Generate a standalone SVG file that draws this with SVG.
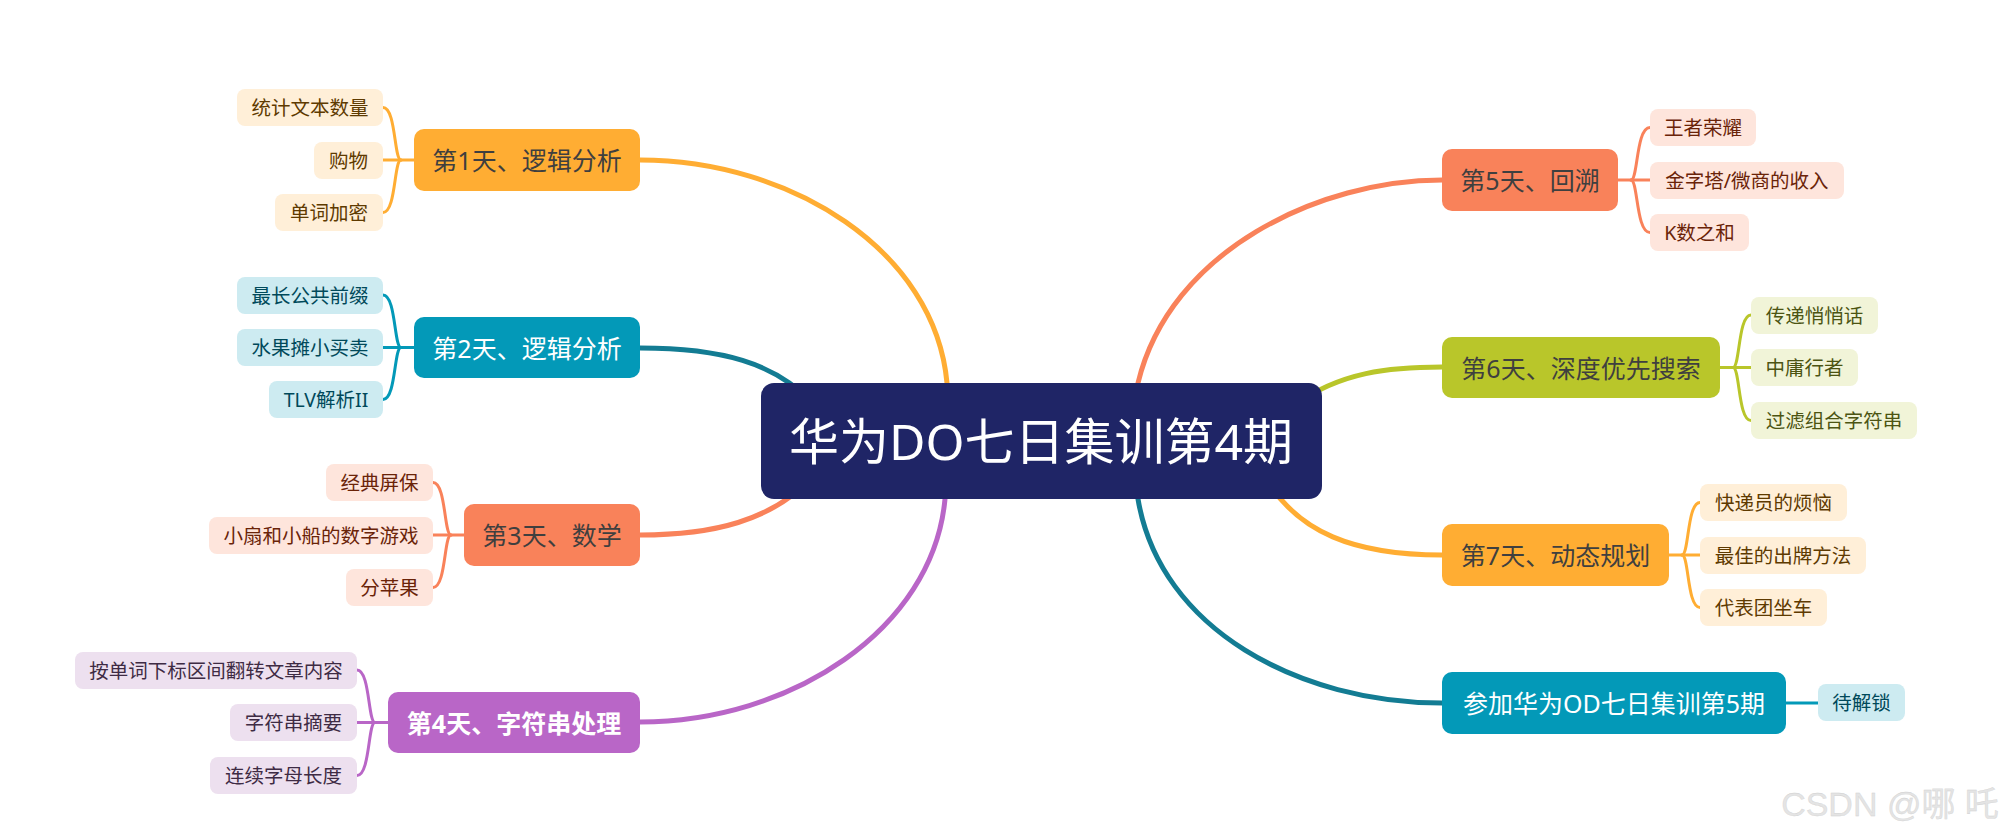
<svg xmlns="http://www.w3.org/2000/svg" width="2013" height="838" viewBox="0 0 2013 838">
<style>
text{font-family:"Noto Sans","Noto Sans CJK SC",sans-serif;text-anchor:middle;dominant-baseline:central}
.c{fill:none;stroke-width:5;stroke-linecap:round}
.b{fill:none;stroke-width:3;stroke-linecap:round}
.tp{font-size:25px}
.lf{font-size:19.5px}
.dark{fill:#3f3f3f}
.white{fill:#ffffff}
.o1{fill:#FFAD33}.o1l{fill:#FFEFD8}.o1t{fill:#5E3A00}
.t1{fill:#0399B8}.t1l{fill:#CDEBF1}.t1t{fill:#00495A}
.r1{fill:#F9825A}.r1l{fill:#FEE5DC}.r1t{fill:#6A2308}
.p1{fill:#B966C7}.p1l{fill:#EDE0EF}.p1t{fill:#3E2B44}
.g1{fill:#B9C62A}.g1l{fill:#F1F4D8}.g1t{fill:#4C5412}
</style>
<g id="connectors">
<path class="c" stroke="#FFAD33" d="M640,160 C790,160 935,250 947,383 L950,430"/>
<path class="c" stroke="#137C93" d="M640,348 C720,348 775,362 815,405"/>
<path class="c" stroke="#F9825A" d="M640,535 C715,535 770,520 810,480"/>
<path class="c" stroke="#B966C7" d="M640,722 C790,722 933,630 945,499 L947,470"/>
<path class="c" stroke="#F9825A" d="M1442,180 C1320,180 1170,250 1138,383 L1136,420"/>
<path class="c" stroke="#B9C62A" d="M1442,367 C1390,367 1340,372 1295,405"/>
<path class="c" stroke="#FFAD33" d="M1442,555 C1350,555 1300,530 1270,485"/>
<path class="c" stroke="#137C93" d="M1442,703 C1300,703 1160,630 1138,499 L1136,470"/>
<g stroke="#FFAD33">
<path class="b" d="M414,160 L383,160"/>
<path class="b" d="M401,160 C394,160 396,107.5 383,107.5"/>
<path class="b" d="M401,160 C394,160 396,212.5 383,212.5"/>
</g>
<g stroke="#0399B8">
<path class="b" d="M414,347.5 L383,347.5"/>
<path class="b" d="M401,347.5 C394,347.5 396,295 383,295"/>
<path class="b" d="M401,347.5 C394,347.5 396,399.5 383,399.5"/>
</g>
<g stroke="#F9825A">
<path class="b" d="M464,535 L433,535"/>
<path class="b" d="M451,535 C444,535 446,482.5 433,482.5"/>
<path class="b" d="M451,535 C444,535 446,587.5 433,587.5"/>
</g>
<g stroke="#B966C7">
<path class="b" d="M388,722.5 L357,722.5"/>
<path class="b" d="M375,722.5 C368,722.5 370,670 357,670"/>
<path class="b" d="M375,722.5 C368,722.5 370,775.5 357,775.5"/>
</g>
<g stroke="#F9825A">
<path class="b" d="M1618,180 L1650,180"/>
<path class="b" d="M1631,180 C1638,180 1636,127.5 1650,127.5"/>
<path class="b" d="M1631,180 C1638,180 1636,232.5 1650,232.5"/>
</g>
<g stroke="#B9C62A">
<path class="b" d="M1720,367.5 L1751,367.5"/>
<path class="b" d="M1733,367.5 C1740,367.5 1738,315 1751,315"/>
<path class="b" d="M1733,367.5 C1740,367.5 1738,420.5 1751,420.5"/>
</g>
<g stroke="#FFAD33">
<path class="b" d="M1669,555 L1700,555"/>
<path class="b" d="M1682,555 C1689,555 1687,502.5 1700,502.5"/>
<path class="b" d="M1682,555 C1689,555 1687,607.5 1700,607.5"/>
</g>
<path class="b" stroke="#0399B8" d="M1786,703 L1818,703"/>
</g>

<g id="main">
<rect x="761" y="383" width="561" height="116" rx="13" fill="#1F2566"/>
<text x="1041" y="441" font-size="50" class="white">华为DO七日集训第4期</text>
</g>

<g id="day1">
<rect x="414" y="129" width="226" height="62" rx="10" class="o1"/>
<text x="527" y="160" class="tp dark">第1天、逻辑分析</text>
</g>
<g id="day1-a"><rect x="237" y="89" width="146" height="37" rx="8" class="o1l"/><text x="310" y="107.5" class="lf o1t">统计文本数量</text></g>
<g id="day1-b"><rect x="314" y="142" width="69" height="37" rx="8" class="o1l"/><text x="348.5" y="160" class="lf o1t">购物</text></g>
<g id="day1-c"><rect x="275" y="194" width="108" height="37" rx="8" class="o1l"/><text x="329" y="212.5" class="lf o1t">单词加密</text></g>

<g id="day2">
<rect x="414" y="317" width="226" height="61" rx="10" class="t1"/>
<text x="527" y="347.5" class="tp white">第2天、逻辑分析</text>
</g>
<g id="day2-a"><rect x="237" y="277" width="146" height="37" rx="8" class="t1l"/><text x="310" y="295" class="lf t1t">最长公共前缀</text></g>
<g id="day2-b"><rect x="237" y="329" width="146" height="37" rx="8" class="t1l"/><text x="310" y="347.5" class="lf t1t">水果摊小买卖</text></g>
<g id="day2-c"><rect x="269" y="381" width="114" height="37" rx="8" class="t1l"/><text x="326" y="399.5" class="lf t1t">TLV解析II</text></g>

<g id="day3">
<rect x="464" y="504" width="176" height="62" rx="10" class="r1"/>
<text x="552" y="535" class="tp dark">第3天、数学</text>
</g>
<g id="day3-a"><rect x="326" y="464" width="107" height="37" rx="8" class="r1l"/><text x="379.5" y="482.5" class="lf r1t">经典屏保</text></g>
<g id="day3-b"><rect x="209" y="517" width="224" height="37" rx="8" class="r1l"/><text x="321" y="535" class="lf r1t">小扇和小船的数字游戏</text></g>
<g id="day3-c"><rect x="346" y="569" width="87" height="37" rx="8" class="r1l"/><text x="389.5" y="587.5" class="lf r1t">分苹果</text></g>

<g id="day4">
<rect x="388" y="692" width="252" height="61" rx="10" class="p1"/>
<text x="514" y="722.5" class="tp white" font-weight="bold">第4天、字符串处理</text>
</g>
<g id="day4-a"><rect x="75" y="652" width="282" height="37" rx="8" class="p1l"/><text x="216" y="670" class="lf p1t">按单词下标区间翻转文章内容</text></g>
<g id="day4-b"><rect x="230" y="704" width="127" height="37" rx="8" class="p1l"/><text x="293.5" y="722.5" class="lf p1t">字符串摘要</text></g>
<g id="day4-c"><rect x="210" y="757" width="147" height="37" rx="8" class="p1l"/><text x="283.5" y="775.5" class="lf p1t">连续字母长度</text></g>

<g id="day5">
<rect x="1442" y="149" width="176" height="62" rx="10" class="r1"/>
<text x="1530" y="180" class="tp dark">第5天、回溯</text>
</g>
<g id="day5-a"><rect x="1650" y="109" width="106" height="37" rx="8" class="r1l"/><text x="1703" y="127.5" class="lf r1t">王者荣耀</text></g>
<g id="day5-b"><rect x="1650" y="162" width="194" height="37" rx="8" class="r1l"/><text x="1747" y="180" class="lf r1t">金字塔/微商的收入</text></g>
<g id="day5-c"><rect x="1650" y="214" width="99" height="37" rx="8" class="r1l"/><text x="1699.5" y="232.5" class="lf r1t">K数之和</text></g>

<g id="day6">
<rect x="1442" y="337" width="278" height="61" rx="10" class="g1"/>
<text x="1581" y="367.5" class="tp dark">第6天、深度优先搜索</text>
</g>
<g id="day6-a"><rect x="1751" y="297" width="127" height="37" rx="8" class="g1l"/><text x="1814.5" y="315" class="lf g1t">传递悄悄话</text></g>
<g id="day6-b"><rect x="1751" y="349" width="107" height="37" rx="8" class="g1l"/><text x="1804.5" y="367.5" class="lf g1t">中庸行者</text></g>
<g id="day6-c"><rect x="1751" y="402" width="166" height="37" rx="8" class="g1l"/><text x="1834" y="420.5" class="lf g1t">过滤组合字符串</text></g>

<g id="day7">
<rect x="1442" y="524" width="227" height="62" rx="10" class="o1"/>
<text x="1555.5" y="555" class="tp dark">第7天、动态规划</text>
</g>
<g id="day7-a"><rect x="1700" y="484" width="147" height="37" rx="8" class="o1l"/><text x="1773.5" y="502.5" class="lf o1t">快递员的烦恼</text></g>
<g id="day7-b"><rect x="1700" y="537" width="166" height="37" rx="8" class="o1l"/><text x="1783" y="555" class="lf o1t">最佳的出牌方法</text></g>
<g id="day7-c"><rect x="1700" y="589" width="127" height="37" rx="8" class="o1l"/><text x="1763.5" y="607.5" class="lf o1t">代表团坐车</text></g>

<g id="od5">
<rect x="1442" y="672" width="344" height="62" rx="10" class="t1"/>
<text x="1614" y="703" class="tp white">参加华为OD七日集训第5期</text>
</g>
<g id="od5-a"><rect x="1818" y="684" width="87" height="37" rx="8" class="t1l"/><text x="1861.5" y="702.5" class="lf t1t">待解锁</text></g>

<text x="1890" y="804" font-size="34" fill="#e4e4e4" stroke="#cfcfcf" stroke-width="0.3" style="font-family:'Liberation Sans','Noto Sans CJK SC',sans-serif">CSDN @哪 吒</text>
</svg>
